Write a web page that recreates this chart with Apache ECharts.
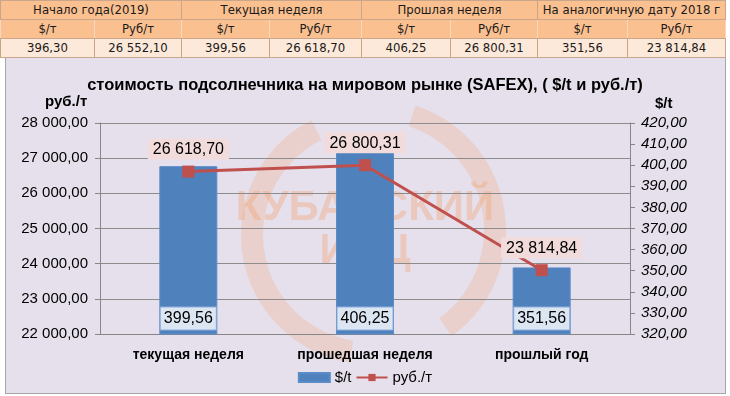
<!DOCTYPE html>
<html>
<head>
<meta charset="utf-8">
<script src="https://cdn.jsdelivr.net/npm/echarts@6/dist/echarts.min.js"></script>
<style>
  html, body { margin: 0; padding: 0; background: #ffffff; width: 730px; height: 396px; overflow: hidden; }
  #box { position: absolute; left: 5px; top: 57px; width: 719px; height: 335px; background: #E6E0EC; border: 1px solid #A6A6A6; }
  #chart { position: absolute; left: 0; top: 0; width: 730px; height: 396px; }
  table { position: absolute; left: 0; top: 0; border-collapse: collapse; font-family: "DejaVu Sans Condensed", "DejaVu Sans", sans-serif; font-size: 13px; color: #1a1a1a; table-layout: fixed; }
  td { text-align: center; padding: 0; height: 18px; line-height: 18px; border: 1px solid #C9A58A; white-space: nowrap; overflow: hidden; }
  tr.h td { background: #FAC090; }
  tr.u td { background: #FAC090; border-left-color: #F6D8C2; border-right-color: #F6D8C2; }
  tr.v td { background: #FDE9D9; }
</style>
</head>
<body>
<div id="box"></div>
<table id="tbl"></table>
<div id="chart"></div>
<script>
// ---- data ----
var tableHeaders = ['Начало года(2019)', 'Текущая неделя', 'Прошлая неделя', 'На аналогичную дату 2018 г'];
var tableUnits = ['$/т', 'Руб/т', '$/т', 'Руб/т', '$/т', 'Руб/т', '$/т', 'Руб/т'];
var tableValues = ['396,30', '26 552,10', '399,56', '26 618,70', '406,25', '26 800,31', '351,56', '23 814,84'];
var colWidths = [94, 87, 88, 92, 89, 87, 90, 98];

var categories = ['текущая неделя', 'прошедшая неделя', 'прошлый год'];
var usdValues = [399.56, 406.25, 351.56];
var rubValues = [26618.70, 26800.31, 23814.84];

var titleText = 'стоимость подсолнечника на мировом рынке (SAFEX), ( $/t и руб./т)';
var seriesNames = ['$/t', 'руб./т'];

// ---- table ----
(function () {
  var t = document.getElementById('tbl');
  var cg = '<colgroup>' + colWidths.map(function (w) { return '<col style="width:' + w + 'px">'; }).join('') + '</colgroup>';
  var r1 = '<tr class="h">' + tableHeaders.map(function (h) { return '<td colspan="2">' + h + '</td>'; }).join('') + '</tr>';
  var r2 = '<tr class="u">' + tableUnits.map(function (u) { return '<td>' + u + '</td>'; }).join('') + '</tr>';
  var r3 = '<tr class="v">' + tableValues.map(function (v) { return '<td>' + v + '</td>'; }).join('') + '</tr>';
  t.innerHTML = cg + r1 + r2 + r3;
})();

function fmt(v) {
  var s = v.toFixed(2).split('.');
  var intPart = s[0].replace(/\B(?=(\d{3})+(?!\d))/g, ' ');
  return intPart + ',' + s[1];
}

var FONT = 'Liberation Sans';
var WM = 'rgba(240,168,125,0.42)';
var chart = echarts.init(document.getElementById('chart'), null, { renderer: 'canvas' });
chart.setOption({
  backgroundColor: 'transparent',
  animation: false,
  title: {
    text: titleText,
    left: 'center',
    top: 72,
    textStyle: { fontFamily: FONT, fontSize: 16.5, fontWeight: 'bold', color: '#000' }
  },
  graphic: [
    { type: 'text', left: 45, top: 94, z: 10, style: { text: 'руб./т', font: 'bold 15px "Liberation Sans"', fill: '#000' } },
    { type: 'text', left: 655, top: 96, z: 10, style: { text: '$/t', font: 'bold 15px "Liberation Sans"', fill: '#000' } },
    { type: 'arc', shape: { cx: 370, cy: 235, r: 118, startAngle: Math.PI * 0.55, endAngle: Math.PI * 1.35 }, z: -10, silent: true,
      style: { fill: 'none', stroke: 'rgba(240,168,125,0.28)', lineWidth: 22 } },
    { type: 'arc', shape: { cx: 375, cy: 230, r: 120, startAngle: Math.PI * 1.6, endAngle: Math.PI * 2.3 }, z: -10, silent: true,
      style: { fill: 'none', stroke: 'rgba(240,168,125,0.28)', lineWidth: 22 } },
    { type: 'text', left: 'center', top: 187, z: -9, silent: true,
      style: { text: 'КУБАНСКИЙ', font: 'bold 42px "Liberation Sans"', fill: WM } },
    { type: 'text', left: 'center', top: 230, z: -9, silent: true,
      style: { text: 'ИАЦ', font: 'bold 42px "Liberation Sans"', fill: WM } }
  ],
  legend: {
    bottom: 6,
    left: 'center',
    itemWidth: 31,
    itemHeight: 9,
    itemGap: 4,
    textStyle: { fontFamily: FONT, fontSize: 15, color: '#000' },
    data: [
      { name: seriesNames[0], icon: 'rect' },
      { name: seriesNames[1] }
    ]
  },
  grid: { left: 100, right: 100, top: 123, bottom: 62 },
  xAxis: {
    type: 'category',
    data: categories,
    axisLine: { lineStyle: { color: '#868686' } },
    axisTick: { length: 5, lineStyle: { color: '#868686' } },
    axisLabel: { fontFamily: FONT, fontSize: 14, fontWeight: 'bold', color: '#000', margin: 14 }
  },
  yAxis: [
    {
      type: 'value', position: 'left', min: 22000, max: 28000, interval: 1000,
      axisLine: { show: true, lineStyle: { color: '#868686' } },
      axisTick: { show: true, length: 5, lineStyle: { color: '#868686' } },
      splitLine: { lineStyle: { color: '#8C8C8C', width: 1 } },
      axisLabel: { fontFamily: FONT, fontSize: 15, color: '#000', margin: 12, formatter: function (v) { return fmt(v); } }
    },
    {
      type: 'value', position: 'right', min: 320, max: 420, interval: 10,
      axisLine: { show: true, lineStyle: { color: '#868686' } },
      axisTick: { show: true, length: 5, lineStyle: { color: '#868686' } },
      splitLine: { show: false },
      axisLabel: { fontFamily: FONT, fontSize: 15, fontStyle: 'italic', color: '#000', margin: 11, formatter: function (v) { return fmt(v); } }
    }
  ],
  series: [
    {
      name: seriesNames[0],
      type: 'bar',
      yAxisIndex: 1,
      data: usdValues,
      barWidth: 58,
      itemStyle: { color: '#4F81BD', borderColor: '#5B8CC8', borderWidth: 1 },
      label: {
        show: true, position: 'insideBottom', distance: 5,
        fontFamily: FONT, fontSize: 16, color: '#000',
        backgroundColor: '#DCE6F2', borderColor: '#8EAEDC', borderWidth: 1,
        padding: [3, 3, 3, 3],
        formatter: function (p) { return fmt(p.value); }
      }
    },
    {
      name: seriesNames[1],
      type: 'line',
      yAxisIndex: 0,
      data: rubValues,
      symbol: 'rect',
      symbolSize: 12,
      lineStyle: { color: '#C0504D', width: 3 },
      itemStyle: { color: '#C0504D' },
      label: {
        show: true, position: 'top', distance: 6,
        fontFamily: FONT, fontSize: 16, color: '#000',
        backgroundColor: '#F2DCDB',
        padding: [3, 5, 2, 5],
        formatter: function (p) { return fmt(p.value); }
      },
      z: 5
    }
  ]
});
</script>
</body>
</html>
